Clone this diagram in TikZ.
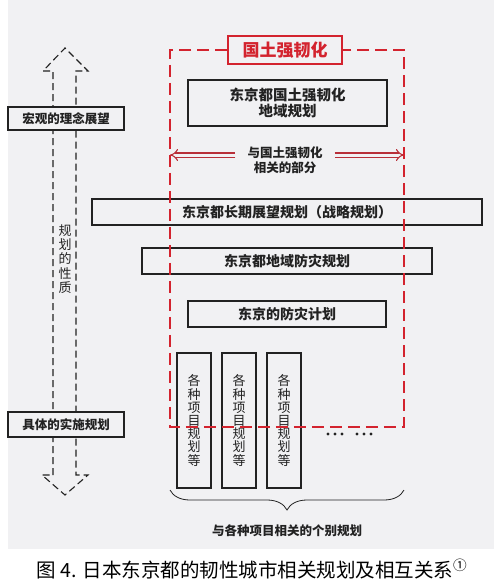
\documentclass[tikz,border=0pt]{standalone}
\usepackage{fontspec}
\setmainfont{Noto Sans CJK SC}
\usetikzlibrary{arrows.meta,positioning,calc,decorations.pathreplacing}
\definecolor{ink}{HTML}{222222}
\definecolor{paper}{HTML}{F1F1F3}
\definecolor{alarm}{HTML}{D3232E}
\definecolor{wine}{HTML}{B83039}
\begin{document}
\begin{tikzpicture}[x=1pt,y=-1pt,text=ink,planbox/.style={draw=ink,line width=1.3pt,fill=paper,inner sep=0pt,align=center,font=\fontsize{14}{17}\selectfont\bfseries},tagbox/.style={draw=ink,line width=1.3pt,fill=paper,inner sep=0pt,minimum width=116pt,font=\fontsize{12.5}{14}\selectfont\bfseries},itembox/.style={draw=ink,line width=1.1pt,fill=paper,minimum width=34pt,minimum height=135pt,inner sep=0pt,align=center,font=\fontsize{13}{13.2}\selectfont},frame/.style={draw=alarm,line width=1.8pt,dash pattern=on 12pt off 6pt},hollow/.style={draw=ink,line width=1.1pt,dash pattern=on 7pt off 4pt},dbl/.style={draw=wine,line width=1.1pt,double=paper,double distance=3pt,-{Implies[length=5pt]}},note/.style={align=center,font=\fontsize{12.5}{15}\selectfont\bfseries}]
 \useasboundingbox (0,0) rectangle (499,586);
 \fill[paper] (8,0) rectangle (494,549);
 \draw[hollow] (53,475)--(53,71)--(43,71)--(65,48)--(88,71)--(76,71)--(76,475)--(88,475)--(65,495)--(42,475)--cycle;
 \node[tagbox,minimum height=23pt] (macro) at (66,118.5) {宏观的理念展望};
 \node[tagbox,minimum height=25pt] (concrete) at (66,424.5) {具体的实施规划};
 \node[align=center,font=\fontsize{13}{14.4}\selectfont] (nature) at (65,259) {规\\划\\的\\性\\质};
 \coordinate (fnw) at (170,50);
 \coordinate (fse) at (404,427);
 \node[draw=alarm,line width=1.8pt,fill=paper,text=alarm,minimum width=114pt,minimum height=28pt,inner sep=0pt,font=\fontsize{17}{17}\selectfont\bfseries] (ttl) at (285,50) {国土强韧化};
 \node[planbox,minimum width=199pt,minimum height=46pt,font=\fontsize{14.5}{16}\selectfont\bfseries] (region) at (287.5,103) {东京都国土强韧化\\地域规划};
 \node[note,inner xsep=12pt] (rel) at (285,160) {与国土强韧化\\相关的部分};
 \coordinate (rl) at ([yshift=5pt]rel.west);
 \coordinate (rr) at ([yshift=5pt]rel.east);
 \draw[dbl] (rl) -- (rl -| fnw);
 \draw[dbl] (rr) -- (rr -| fse);
 \node[planbox,minimum width=390pt,minimum height=26pt] (vision) at (287,212) {东京都长期展望规划（战略规划）};
 \node[planbox,minimum width=290pt,minimum height=26pt] (disaster) at (287,261) {东京都地域防灾规划};
 \node[planbox,minimum width=198pt,minimum height=26pt] (plan) at (287,314) {东京的防灾计划};
 \foreach \x/\n in {194/a,239/b,284/c}
  \node[itembox] (item\n) at (\x,420.5) {各\\种\\项\\目\\规\\划\\等};
 \draw[frame] (ttl.west) -- (ttl.west -| fnw) -- (fnw |- fse) -- (fse) -- (fse |- fnw) -- (ttl.east);
 \foreach \x in {328,335,342,357,364,371}
  \fill[ink] (\x,434) circle (1.7);
 \coordinate (bl) at (170,490);
 \coordinate (br) at (404,490);
 \draw[ink,line width=0.8pt,decorate,decoration={brace,amplitude=20pt}] (br) -- (bl);
 \node[note] (each) at (287,531) {与各种项目相关的个别规划};
 \node[text=black,font=\fontsize{19.5}{20}\selectfont] (cap) at (252,569) {图 4. 日本东京都的韧性城市相关规划及相互关系\textsuperscript{①}};
\end{tikzpicture}
\end{document}
